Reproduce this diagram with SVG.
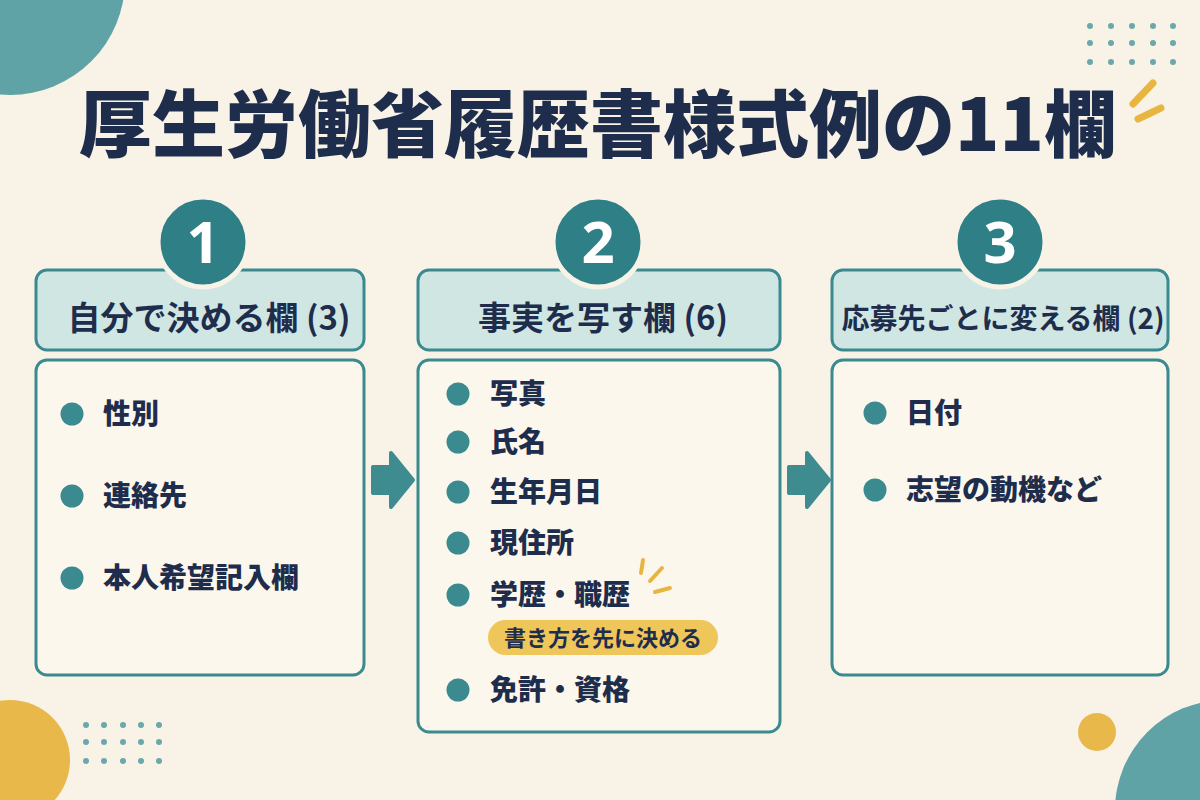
<svg xmlns="http://www.w3.org/2000/svg" width="1200" height="800" viewBox="0 0 1200 800">
<defs>
<style>
.title{font-family:"Noto Sans CJK JP","Noto Sans CJK SC",sans-serif;font-weight:900;fill:#1f2d4d}
.hdr{font-family:"Noto Sans CJK JP","Noto Sans CJK SC",sans-serif;font-weight:700;fill:#1f2d4d;text-anchor:middle}
.item{font-family:"Noto Sans CJK JP","Noto Sans CJK SC",sans-serif;font-weight:800;fill:#1f2d4d;font-size:28px}
.num{font-family:"Noto Sans","DejaVu Sans",sans-serif;font-weight:700;fill:#ffffff;font-size:58px;text-anchor:middle}
.hbox{fill:#cfe6e3;stroke:#3a8a90;stroke-width:3}
.cbox{fill:#fbf7ec;stroke:#3a8a90;stroke-width:3}
.badge{fill:#2e7f86;stroke:#f8f3e6;stroke-width:5}
.bul{fill:#3b8a90}
.dot{fill:#6aa8ab}
.spark{stroke:#e8b640;stroke-linecap:round;fill:none}
.arrow{fill:#3e8b90;stroke:#3e8b90;stroke-width:4;stroke-linejoin:round}
</style>
<path id="arr" d="M0,13 L18,13 L18,-1 L40,26 L18,53 L18,39 L0,39 Z"/>
</defs>
<rect width="1200" height="800" fill="#f8f3e6"/>
<!-- decorations -->
<circle cx="10" cy="-20" r="115" fill="#5fa3a6"/>
<circle cx="10" cy="760" r="60" fill="#e8b94a"/>
<circle cx="1097" cy="732" r="19" fill="#e8b94a"/>
<circle cx="1225" cy="810" r="110" fill="#5fa3a6"/>
<g>
<circle class="dot" cx="1090" cy="26" r="3"/><circle class="dot" cx="1111" cy="26" r="3"/><circle class="dot" cx="1132" cy="26" r="3"/><circle class="dot" cx="1153" cy="26" r="3"/><circle class="dot" cx="1173" cy="26" r="3"/>
<circle class="dot" cx="1090" cy="43" r="3"/><circle class="dot" cx="1111" cy="43" r="3"/><circle class="dot" cx="1132" cy="43" r="3"/><circle class="dot" cx="1153" cy="43" r="3"/><circle class="dot" cx="1173" cy="43" r="3"/>
<circle class="dot" cx="1090" cy="62" r="3"/><circle class="dot" cx="1111" cy="62" r="3"/><circle class="dot" cx="1132" cy="62" r="3"/><circle class="dot" cx="1153" cy="62" r="3"/><circle class="dot" cx="1173" cy="62" r="3"/>
</g>
<g>
<circle class="dot" cx="86" cy="725" r="3"/><circle class="dot" cx="104" cy="725" r="3"/><circle class="dot" cx="123" cy="725" r="3"/><circle class="dot" cx="141" cy="725" r="3"/><circle class="dot" cx="159" cy="725" r="3"/>
<circle class="dot" cx="86" cy="742" r="3"/><circle class="dot" cx="104" cy="742" r="3"/><circle class="dot" cx="123" cy="742" r="3"/><circle class="dot" cx="141" cy="742" r="3"/><circle class="dot" cx="159" cy="742" r="3"/>
<circle class="dot" cx="86" cy="761" r="3"/><circle class="dot" cx="104" cy="761" r="3"/><circle class="dot" cx="123" cy="761" r="3"/><circle class="dot" cx="141" cy="761" r="3"/><circle class="dot" cx="159" cy="761" r="3"/>
</g>
<g stroke-width="7" class="spark">
<line x1="1153" y1="83" x2="1133" y2="104"/>
<line x1="1161" y1="108" x2="1138" y2="119"/>
</g>
<!-- title -->
<text class="title" x="598" y="151" font-size="73" text-anchor="middle">厚生労働省履歴書様式例の11欄</text>

<!-- column 1 -->
<g id="col1">
<rect class="hbox" x="36" y="270" width="328" height="80" rx="11"/>
<circle class="badge" cx="203" cy="242" r="45"/>
<text class="num" x="203" y="263">1</text>
<text class="hdr" x="209" y="330" font-size="33">自分で決める欄 (3)</text>
</g>
<g id="list1">
<rect class="cbox" x="36" y="360" width="328" height="315" rx="11"/>
<circle class="bul" cx="72" cy="414" r="11.5"/><text class="item" x="103" y="424">性別</text>
<circle class="bul" cx="72" cy="496" r="11.5"/><text class="item" x="103" y="506">連絡先</text>
<circle class="bul" cx="72" cy="578" r="11.5"/><text class="item" x="103" y="588">本人希望記入欄</text>
</g>

<!-- column 2 -->
<g id="col2">
<rect class="hbox" x="418" y="270" width="362" height="80" rx="11"/>
<circle class="badge" cx="598" cy="242" r="45"/>
<text class="num" x="598" y="263">2</text>
<text class="hdr" x="603" y="330" font-size="33">事実を写す欄 (6)</text>
</g>
<g id="list2">
<rect class="cbox" x="418" y="360" width="362" height="372" rx="11"/>
<circle class="bul" cx="458" cy="394" r="11.5"/><text class="item" x="490" y="404">写真</text>
<circle class="bul" cx="458" cy="442" r="11.5"/><text class="item" x="490" y="452">氏名</text>
<circle class="bul" cx="458" cy="492" r="11.5"/><text class="item" x="490" y="502">生年月日</text>
<circle class="bul" cx="458" cy="543" r="11.5"/><text class="item" x="490" y="553">現住所</text>
<circle class="bul" cx="458" cy="595" r="11.5"/><text class="item" x="490" y="605">学歴・職歴</text>
<g class="spark" stroke-width="4">
<line x1="643" y1="560" x2="641" y2="573"/>
<line x1="662" y1="568" x2="650" y2="581"/>
<line x1="670" y1="588" x2="655" y2="592"/>
</g>
<rect x="488" y="620" width="230" height="35" rx="17.5" fill="#efc65a"/>
<text class="hdr" x="603" y="646" font-size="22">書き方を先に決める</text>
<circle class="bul" cx="458" cy="690" r="11.5"/><text class="item" x="490" y="700">免許・資格</text>
</g>

<!-- column 3 -->
<g id="col3">
<rect class="hbox" x="832" y="270" width="336" height="80" rx="11"/>
<circle class="badge" cx="1000" cy="242" r="45"/>
<text class="num" x="1000" y="263">3</text>
<text class="hdr" x="1003" y="329" font-size="28">応募先ごとに変える欄 (2)</text>
</g>
<g id="list3">
<rect class="cbox" x="832" y="360" width="336" height="315" rx="11"/>
<circle class="bul" cx="875" cy="413" r="11.5"/><text class="item" x="906" y="423">日付</text>
<circle class="bul" cx="875" cy="490" r="11.5"/><text class="item" x="906" y="500">志望の動機など</text>
</g>

<!-- connectors -->
<g id="connectors">
<use href="#arr" class="arrow" x="373" y="454"/>
<use href="#arr" class="arrow" x="789" y="454"/>
</g>
</svg>
